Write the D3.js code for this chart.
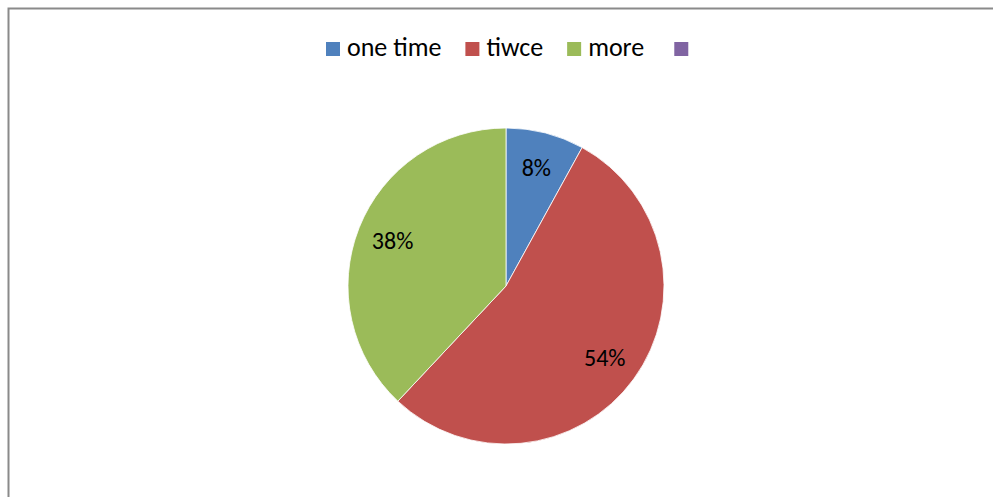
<!DOCTYPE html>
<html>
<head>
<meta charset="utf-8">
<script src="https://cdn.jsdelivr.net/npm/d3@7"></script>
<style>
  html, body { margin: 0; padding: 0; background: #fff; }
  svg { display: block; }
  text { font-family: Carlito, Calibri, Lato, "Open Sans", sans-serif; fill: #000; }
</style>
</head>
<body>
<svg id="chart" width="993" height="497"></svg>
<script>
// Frequency of answers
const categories = ["one time", "tiwce", "more", ""];
const values = [8, 54, 38, 0];
const colors = ["#4F81BD", "#C0504D", "#9BBB59", "#8064A2"];

const W = 993, H = 497;
const cx = 506, cy = 286, radius = 158, labelRadius = 122;

const svg = d3.select("#chart");

// chart area frame (top and left edges visible)
svg.append("path")
  .attr("d", `M8.5,${H} V8.5 H${W}`)
  .attr("fill", "none")
  .attr("stroke", "#8a8a8a")
  .attr("stroke-width", 2);

const color = d3.scaleOrdinal().domain(categories).range(colors);

const data = categories.map((c, i) => ({ cat: c, value: values[i] }));
const pie = d3.pie().value(d => d.value).sort(null);
const arcs = pie(data);

const arc = d3.arc().innerRadius(0).outerRadius(radius);
const labelArc = d3.arc().innerRadius(labelRadius).outerRadius(labelRadius);

const g = svg.append("g").attr("transform", `translate(${cx},${cy})`);

g.selectAll("path.slice")
  .data(arcs.filter(d => d.data.value > 0))
  .join("path")
  .attr("class", "slice")
  .attr("d", arc)
  .attr("fill", d => color(d.data.cat))
  .attr("stroke", "#ffffff")
  .attr("stroke-width", 0.8);

const total = d3.sum(values);
g.selectAll("text.lbl")
  .data(arcs.filter(d => d.data.value > 0))
  .join("text")
  .attr("class", "lbl")
  .attr("transform", d => `translate(${labelArc.centroid(d)})`)
  .attr("text-anchor", "middle")
  .attr("dy", "0.33em")
  .attr("font-size", 24)
  .text(d => Math.round(d.data.value / total * 100) + "%");

// legend
const legend = svg.append("g");
const items = legend.selectAll("g.item")
  .data(categories)
  .join("g")
  .attr("class", "item");

items.append("rect")
  .attr("width", 14).attr("height", 14)
  .attr("y", -14)
  .attr("fill", d => color(d));

items.append("text")
  .attr("x", 21)
  .attr("y", 0)
  .attr("font-size", 26)
  .text(d => d);

let x = 0;
items.each(function(d, i) {
  const node = d3.select(this);
  node.attr("transform", `translate(${x},0)`);
  const tw = node.select("text").node().getComputedTextLength();
  x += 21 + tw + (i === 2 ? 30 : 24);
});
const legendWidth = x - 24 - 7;
legend.attr("transform", `translate(${Math.round(cx + 1 - legendWidth / 2)},56)`);
</script>
</body>
</html>
